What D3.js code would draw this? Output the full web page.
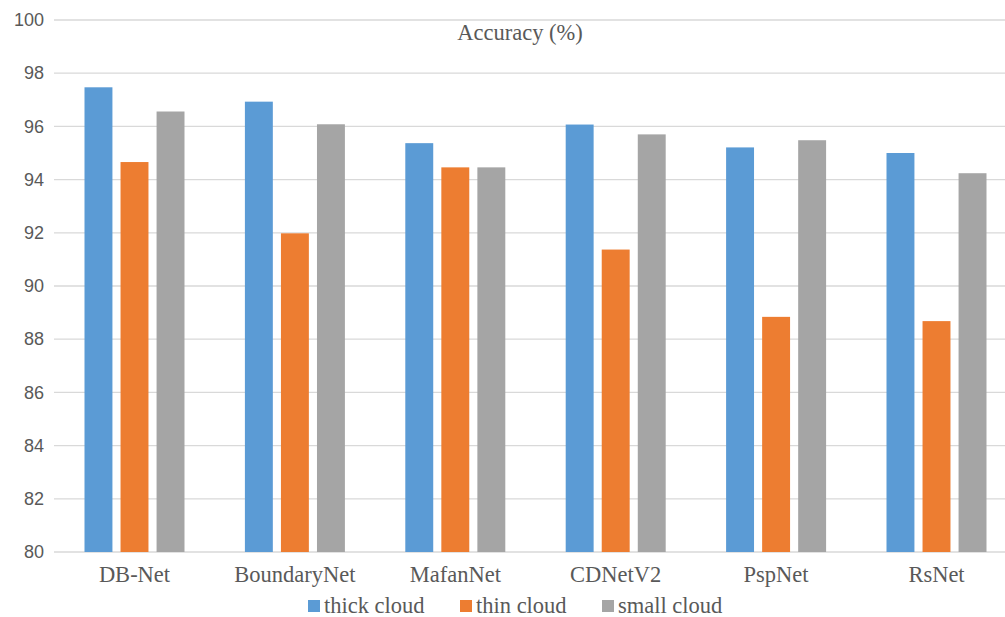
<!DOCTYPE html>
<html>
<head>
<meta charset="utf-8">
<script src="https://cdn.jsdelivr.net/npm/d3@7/dist/d3.min.js"></script>
<style>
  html, body { margin: 0; padding: 0; background: #fff; }
  svg { display: block; }
</style>
</head>
<body>
<svg id="chart" width="1005" height="617"></svg>
<script>
const categories = ["DB-Net", "BoundaryNet", "MafanNet", "CDNetV2", "PspNet", "RsNet"];
const seriesNames = ["thick cloud", "thin cloud", "small cloud"];
const thickCloud = [97.47, 96.93, 95.37, 96.07, 95.21, 95.0];
const thinCloud  = [94.66, 91.98, 94.46, 91.37, 88.84, 88.68];
const smallCloud = [96.56, 96.08, 94.46, 95.70, 95.48, 94.24];
const yTicks = [80, 82, 84, 86, 88, 90, 92, 94, 96, 98, 100];
const colors = ["#5b9bd5", "#ed7d31", "#a5a5a5"];
const title = "Accuracy (%)";

const seriesValues = [thickCloud, thinCloud, smallCloud];
const svg = d3.select("#chart");

const x0 = d3.scaleBand().domain(categories).range([54.3, 1016.7]).paddingInner(0).paddingOuter(0);
const x1 = d3.scaleBand().domain(seriesNames).range([0, 100]).paddingInner(0.225).paddingOuter(0);
const y = d3.scaleLinear().domain([80, 100]).range([552, 20]);

// gridlines
svg.append("g").selectAll("line").data(yTicks).join("line")
  .attr("x1", 54).attr("x2", 1005)
  .attr("y1", d => y(d)).attr("y2", d => y(d))
  .attr("stroke", "#d9d9d9").attr("stroke-width", 1.3);

// y axis labels
const yAxis = d3.axisLeft(y).tickValues(yTicks).tickSize(0).tickPadding(0);
const gy = svg.append("g").attr("transform", "translate(44,0)").call(yAxis);
gy.select(".domain").remove();
gy.selectAll("text")
  .attr("font-family", "'Liberation Sans', Arial, sans-serif")
  .attr("font-size", 18).attr("fill", "#595959");

// bars
const groups = svg.append("g").selectAll("g").data(categories).join("g")
  .attr("transform", c => `translate(${x0(c) + x0.bandwidth() / 2 - 50},0)`);
groups.selectAll("rect")
  .data((c, i) => seriesNames.map((s, j) => ({ s, j, v: seriesValues[j][i] })))
  .join("rect")
  .attr("x", d => x1(d.s))
  .attr("width", x1.bandwidth())
  .attr("y", d => y(d.v))
  .attr("height", d => y(80) - y(d.v))
  .attr("fill", d => colors[d.j]);

// category axis labels
const xAxis = d3.axisBottom(x0).tickSize(0).tickPadding(0);
const gx = svg.append("g").attr("transform", "translate(0,566)").call(xAxis);
gx.select(".domain").remove();
gx.selectAll("text")
  .attr("font-family", "'Liberation Serif', 'Times New Roman', serif")
  .attr("font-size", 22.5).attr("fill", "#595959")
  .attr("dy", "0.71em");

// title
svg.append("text").attr("x", 520).attr("y", 40).attr("text-anchor", "middle")
  .attr("font-family", "'Liberation Serif', 'Times New Roman', serif")
  .attr("font-size", 22.5).attr("fill", "#595959").text(title);

// legend
const legendX = [308, 460, 602];
const lg = svg.append("g").selectAll("g").data(seriesNames).join("g")
  .attr("transform", (d, i) => `translate(${legendX[i]},600)`);
lg.append("rect").attr("width", 12).attr("height", 12).attr("fill", (d, i) => colors[i]);
lg.append("text").attr("x", 16).attr("y", 13)
  .attr("font-family", "'Liberation Serif', 'Times New Roman', serif")
  .attr("font-size", 22.5).attr("fill", "#595959").text(d => d);
</script>
</body>
</html>
